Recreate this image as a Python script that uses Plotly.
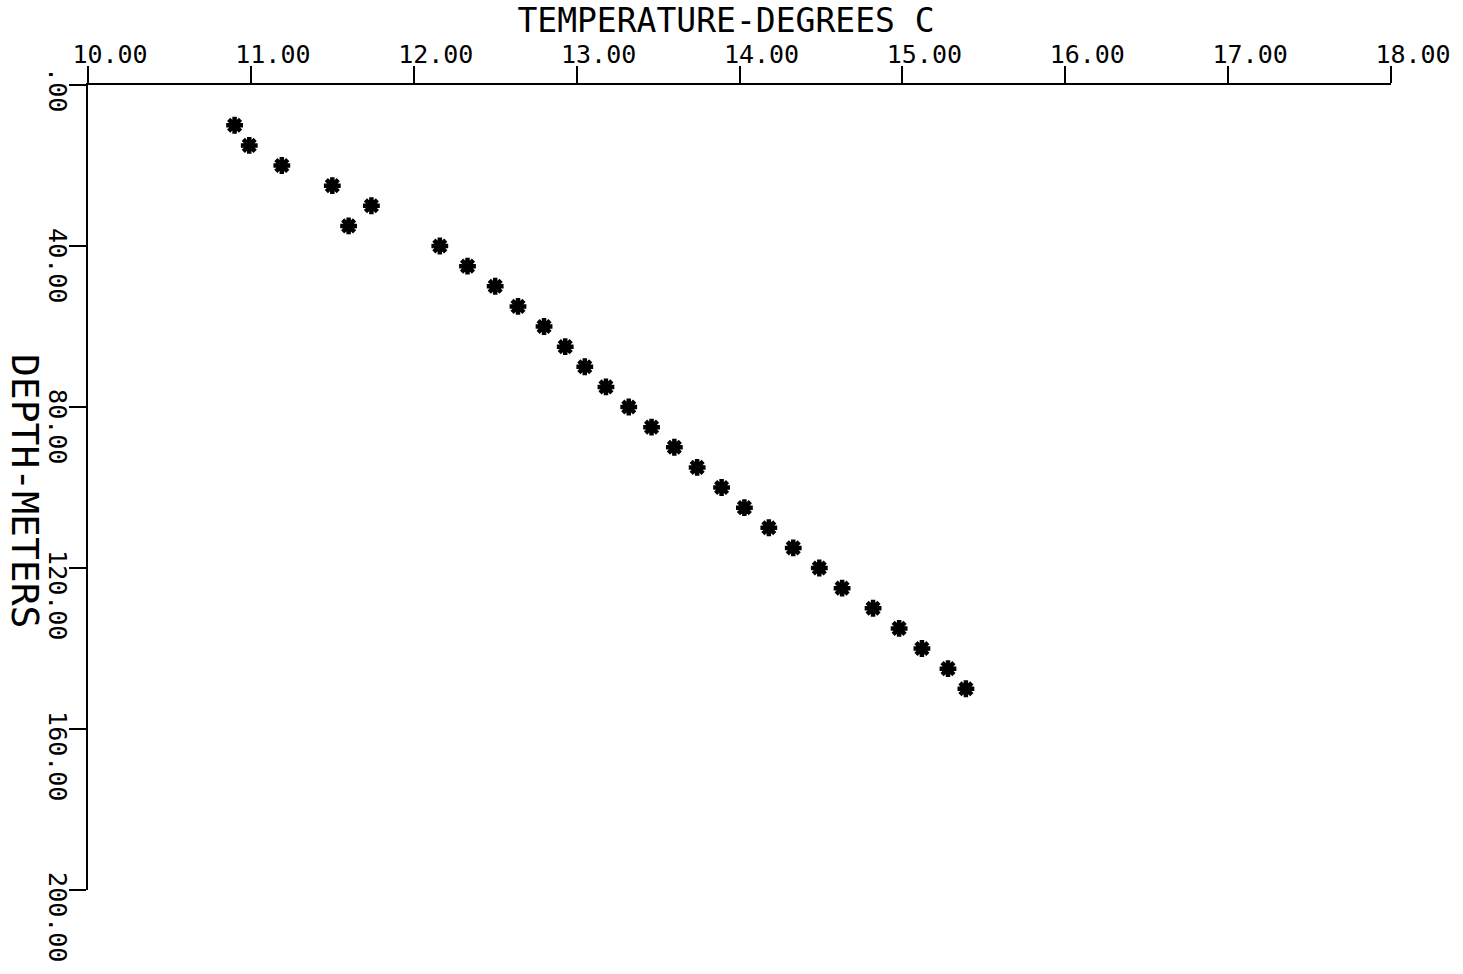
import plotly.graph_objects as go

# Depth (m) and temperature (deg C)
depth_m = [10, 15, 20, 25, 30, 35, 40, 45, 50, 55, 60, 65, 70, 75, 80,
           85, 90, 95, 100, 105, 110, 115, 120, 125, 130, 135, 140, 145, 150]
temperature_c = [10.90, 10.99, 11.19, 11.50, 11.74, 11.60, 12.16, 12.33, 12.50, 12.64,
                 12.80, 12.93, 13.05, 13.18, 13.32, 13.46, 13.60, 13.74, 13.89, 14.03,
                 14.18, 14.33, 14.49, 14.63, 14.82, 14.98, 15.12, 15.28, 15.39]

x_ticks = [10, 11, 12, 13, 14, 15, 16, 17, 18]
x_ticktext = ["10.00", "11.00", "12.00", "13.00", "14.00", "15.00", "16.00", "17.00", "18.00"]
y_ticks = [0, 40, 80, 120, 160, 200]
y_ticktext = [".00", "40.00", "80.00", "120.00", "160.00", "200.00"]

NB = "\u00a0"
y_ticktext_padded = [t + NB * (6 - len(t)) for t in y_ticktext]

FONT = "DejaVu Sans Mono"

fig = go.Figure()
fig.add_trace(go.Scatter(
    x=temperature_c, y=depth_m, mode="markers",
    marker=dict(symbol="asterisk", size=14, color="black",
                line=dict(color="black", width=4.5)),
    hoverinfo="skip",
))

fig.update_layout(
    width=1463, height=974,
    margin=dict(l=88, r=70, t=85, b=82),
    plot_bgcolor="white", paper_bgcolor="white",
    showlegend=False,
    title=dict(text="TEMPERATURE-DEGREES C", x=(727 - 88) / (1463 - 88 - 70), xref="paper",
               xanchor="center",
               y=1 - 20 / 974, yref="container", yanchor="middle",
               font=dict(family=FONT, size=33, color="black")),
    annotations=[dict(text="DEPTH-METERS", xref="paper", yref="paper",
                      x=-(88 - 25) / (1463 - 88 - 70), y=1 - (492 - 85) / (974 - 85 - 82),
                      xanchor="center", yanchor="middle", textangle=90, showarrow=False,
                      font=dict(family=FONT, size=38, color="black"))],
)

fig.update_xaxes(
    side="top", range=[10, 18], tickmode="array", tickvals=x_ticks, ticktext=x_ticktext,
    ticks="outside", ticklen=17, tickwidth=2, tickcolor="black",
    showline=True, linewidth=2, linecolor="black", showgrid=False, zeroline=False,
    tickfont=dict(family=FONT, size=25, color="black"), ticklabelshift=22,
    ticklabelstandoff=-7,
)
fig.update_yaxes(
    range=[200, 0], tickmode="array", tickvals=y_ticks, ticktext=y_ticktext_padded,
    tickangle=90,
    ticks="outside", ticklen=17, tickwidth=2, tickcolor="black",
    showline=True, linewidth=2, linecolor="black", showgrid=False, zeroline=False,
    tickfont=dict(family=FONT, size=25, color="black"), ticklabelshift=-31,
    ticklabelstandoff=-10,
)

fig.write_html("out.html")
